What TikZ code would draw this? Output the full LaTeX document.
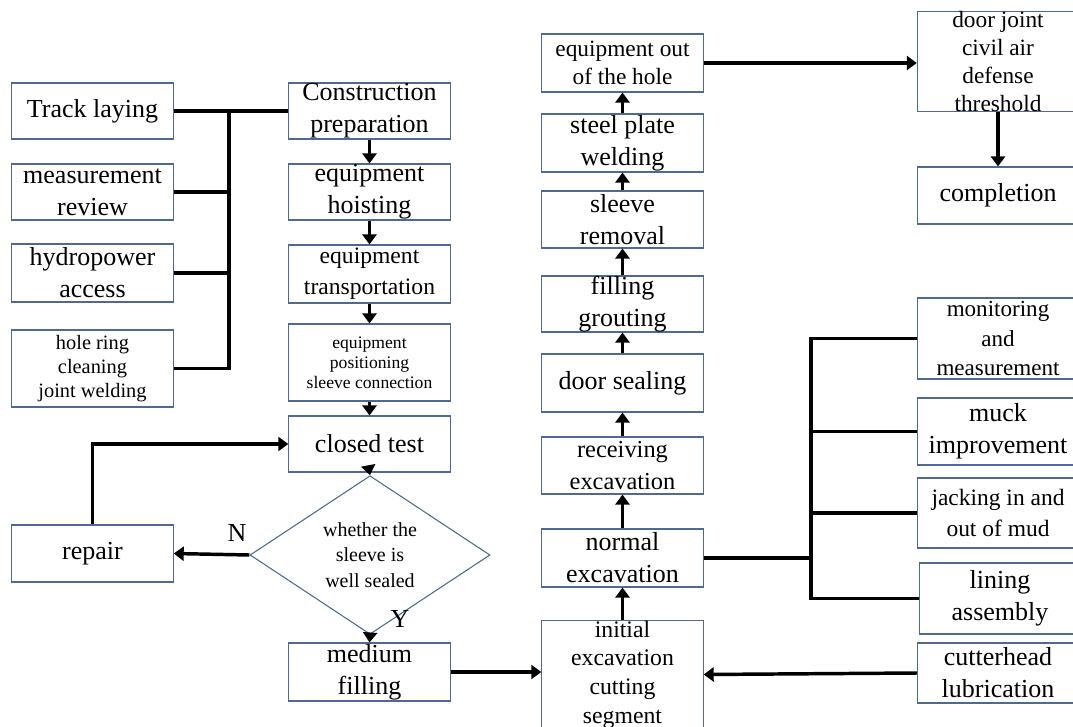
\documentclass[tikz,border=0pt]{standalone}
\usepackage{fontspec}
\setmainfont{Liberation Serif}
\usetikzlibrary{arrows.meta,positioning,shapes.geometric}
\definecolor{cpframe}{HTML}{4F6A92}
\tikzset{
  cpbox/.style={draw=cpframe, line width=0.8pt, fill=white, inner sep=0pt,
                align=center, minimum width=121pt, font={\fontsize{19.5}{24}\selectfont}},
  cpsmall/.style={cpbox, font={\fontsize{15.3}{18}\selectfont}},
  cptiny/.style={cpbox, font={\fontsize{13.2}{15}\selectfont}},
  cpdecision/.style={diamond, draw=cpframe, line width=0.8pt, fill=white, inner sep=0pt,
                     align=center, minimum width=180pt, minimum height=97.5pt,
                     font={\fontsize{15}{19}\selectfont}},
  cplink/.style={draw=black, line width=2.6pt},
  cpedge/.style={cplink, -{Triangle[length=7.5pt,width=10.5pt]}},
  cplabel/.style={font={\fontsize{19.5}{24}\selectfont}, inner sep=0pt},
}
\begin{document}
\begin{tikzpicture}[x=0.75pt, y=-0.75pt]
  \clip (0,0) rectangle (1073,727);
  \fill[white] (0,0) rectangle (1073,727);

  % left column
  \node[cpbox, minimum height=42pt] (track) at (92.5,111) {Track laying};
  \node[cpbox, minimum height=42pt] (review) at (92.5,192) {measurement\\review};
  \node[cpbox, minimum height=43.5pt] (hydro) at (92.5,273) {hydropower\\access};
  \node[cpsmall, minimum height=57.75pt] (holering) at (92.5,368.5) {hole ring\\cleaning\\joint welding};
  \node[cpbox, minimum height=42.75pt] (repair) at (92.5,553.5) {repair};

  % middle column
  \node[cpbox, minimum height=42pt] (prep) at (369.5,111) {Construction\\preparation};
  \node[cpbox, minimum height=42pt] (hoist) at (369.5,192) {equipment\\hoisting};
  \node[cpbox, minimum height=43.5pt, font={\fontsize{17.7}{23.5}\selectfont}] (transport) at (369.5,274)
       {equipment\\transportation};
  \node[cptiny, minimum height=57.75pt] (position) at (369.5,362.5) {equipment\\positioning\\sleeve connection};
  \node[cpbox, minimum height=42pt] (closed) at (369.5,444) {closed test};
  \node[cpdecision] (decision) at (370,555) {whether the\\sleeve is\\well sealed};
  \node[cpbox, minimum height=43.5pt] (medium) at (369.5,672) {medium\\filling};

  % excavation column
  \node[cpbox, minimum height=43.5pt, font={\fontsize{17.5}{21.5}\selectfont}] (outhole) at (622.5,63)
       {equipment out\\of the hole};
  \node[cpbox, minimum height=43.5pt] (steelplate) at (622.5,143) {steel plate\\welding};
  \node[cpbox, minimum height=42.75pt] (sleeve) at (622.5,219.5) {sleeve\\removal};
  \node[cpbox, minimum height=42pt] (grouting) at (622.5,304) {filling\\grouting};
  \node[cpbox, minimum height=43.5pt] (sealing) at (622.5,383) {door sealing};
  \node[cpbox, minimum height=42.75pt, font={\fontsize{18.3}{23.5}\selectfont}] (receiving) at (622.5,465.5)
       {receiving\\excavation};
  \node[cpbox, minimum height=43.5pt] (normal) at (622.5,558) {normal\\excavation};
  \node[cpbox, minimum height=78.75pt, font={\fontsize{17.8}{21.5}\selectfont}] (initial) at (622.5,674.5)
       {initial\\excavation\\cutting\\segment};

  % right column
  \node[cpbox, minimum height=74.25pt, font={\fontsize{17.5}{21}\selectfont}] (doorjoint) at (998,61.5)
       {door joint\\civil air\\defense\\threshold};
  \node[cpbox, minimum height=42.75pt] (completion) at (998,195.5) {completion};
  \node[cpbox, minimum height=60.75pt, font={\fontsize{17.3}{22}\selectfont}] (monitoring) at (998,338.5)
       {monitoring\\and\\measurement};
  \node[cpbox, minimum height=50.25pt] (muck) at (998,431.5) {muck\\improvement};
  \node[cpbox, minimum height=52.5pt, font={\fontsize{17.6}{23}\selectfont}] (jacking) at (998,513)
       {jacking in and\\out of mud};
  \node[cpbox, minimum height=53.25pt] (lining) at (1000,598.5) {lining\\assembly};
  \node[cpbox, minimum height=45pt] (cutterhead) at (998,673) {cutterhead\\lubrication};

  % preparation work
  \coordinate (lbus) at (229,111);
  \draw[cplink] (track.east) -- (prep.west);
  \draw[cplink] (lbus) -- (lbus |- holering.east) -- (holering.east);
  \draw[cplink] (review.east) -- (review.east -| lbus);
  \draw[cplink] (hydro.east) -- (hydro.east -| lbus);

  % main sequence
  \foreach \a/\b in {prep/hoist, hoist/transport, transport/position, position/closed,
                     closed/decision, decision/medium}
    \draw[cpedge] (\a.south) -- (\b.north);
  \draw[cpedge] (decision.west) -- (repair.east);
  \draw[cpedge] (repair.north) |- (closed.west);
  \node[cplabel] (no) at (237,533) {N};
  \node[cplabel] (yes) at (400,619) {Y};
  \draw[cpedge] (medium.east) -- (medium.east -| initial.west);

  \foreach \a/\b in {initial/normal, normal/receiving, receiving/sealing, sealing/grouting,
                     grouting/sleeve, sleeve/steelplate, steelplate/outhole}
    \draw[cpedge] (\a.north) -- (\b.south);
  \draw[cpedge] (outhole.east) -- (outhole.east -| doorjoint.west);
  \draw[cpedge] (doorjoint.south) -- (completion.north);

  % excavation support
  \coordinate (rbus) at (811,338.5);
  \draw[cplink] (monitoring.west) -- (rbus) -- (rbus |- lining.west) -- (lining.west);
  \draw[cplink] (normal.east) -- (normal.east -| rbus);
  \draw[cplink] (muck.west) -- (muck.west -| rbus);
  \draw[cplink] (jacking.west) -- (jacking.west -| rbus);
  \draw[cpedge] (cutterhead.west) -- (initial.east);
\end{tikzpicture}
\end{document}
